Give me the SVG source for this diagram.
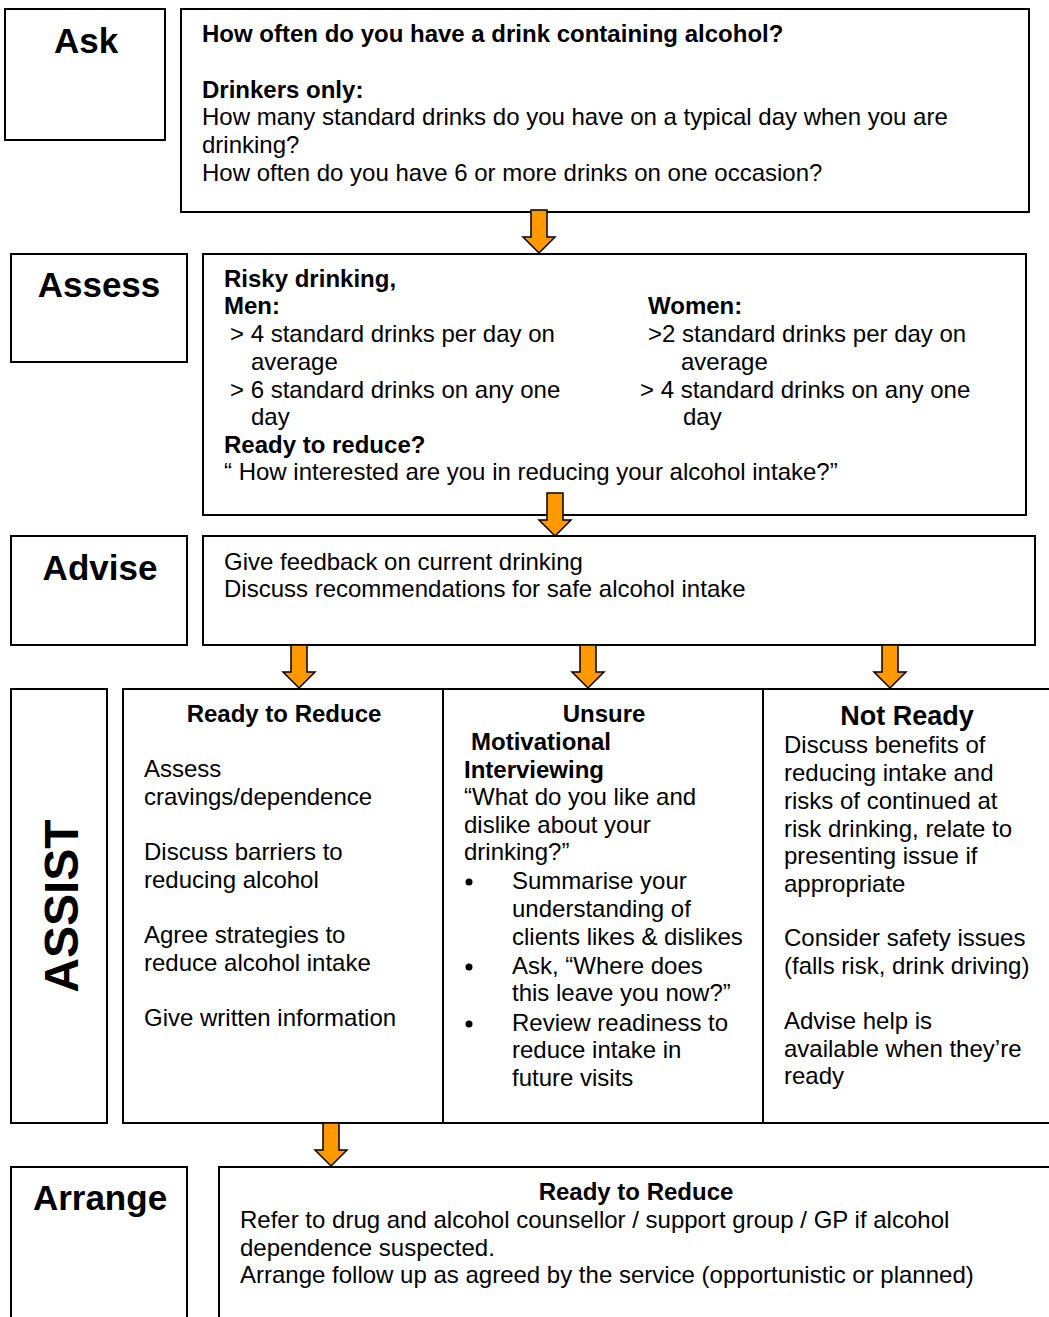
<svg xmlns="http://www.w3.org/2000/svg" width="1049" height="1317" viewBox="0 0 1049 1317">
  <style>
    .box { fill: #fff; stroke: #000; stroke-width: 2; }
    .t { font-family: "Liberation Sans", Arial, sans-serif; font-size: 24px; fill: #000; }
    .b { font-weight: bold; }
    .big { font-size: 27px; }
    .lbl { font-family: "Liberation Sans", Arial, sans-serif; font-size: 35px; font-weight: bold; fill: #000; text-anchor: middle; }
    .arrow { fill: #FF9900; stroke: #000; stroke-width: 1.5; stroke-linejoin: miter; }
  </style>
  <defs>
    <!-- block arrow, tip at (0,0), length 43 -->
    <path id="down" class="arrow" d="M -8 -43 L 8 -43 L 8 -16 L 16 -16 L 0 0 L -16 -16 L -8 -16 Z"/>
  </defs>
  <rect width="1049" height="1317" fill="#fff"/>

  <!-- Ask -->
  <g id="ask-label">
    <rect class="box" x="5" y="9" width="160" height="131"/>
    <text class="lbl" x="86" y="53">Ask</text>
  </g>
  <g id="ask-content">
    <rect class="box" x="181" y="9" width="848" height="203"/>
    <text class="t b" x="202" y="42">How often do you have a drink containing alcohol?</text>
    <text class="t b" x="202" y="98">Drinkers only:</text>
    <text class="t" x="202" y="125">How many standard drinks do you have on a typical day when you are</text>
    <text class="t" x="202" y="153">drinking?</text>
    <text class="t" x="202" y="181">How often do you have 6 or more drinks on one occasion?</text>
  </g>

  <!-- Assess -->
  <g id="assess-label">
    <rect class="box" x="11" y="254" width="176" height="108"/>
    <text class="lbl" x="99" y="297">Assess</text>
  </g>
  <g id="assess-content">
    <rect class="box" x="203" y="254" width="823" height="261"/>
    <text class="t b" x="224" y="287">Risky drinking,</text>
    <text class="t b" x="224" y="314">Men:</text>
    <text class="t" x="230" y="342">&gt; 4 standard drinks per day on</text>
    <text class="t" x="251" y="370">average</text>
    <text class="t" x="230" y="398">&gt; 6 standard drinks on any one</text>
    <text class="t" x="251" y="425">day</text>
    <text class="t b" x="648" y="314">Women:</text>
    <text class="t" x="648" y="342">&gt;2 standard drinks per day on</text>
    <text class="t" x="681" y="370">average</text>
    <text class="t" x="640" y="398">&gt; 4 standard drinks on any one</text>
    <text class="t" x="683" y="425">day</text>
    <text class="t b" x="224" y="453">Ready to reduce?</text>
    <text class="t" x="224" y="480">“ How interested are you in reducing your alcohol intake?”</text>
  </g>

  <!-- Advise -->
  <g id="advise-label">
    <rect class="box" x="11" y="536" width="176" height="109"/>
    <text class="lbl" x="100" y="580">Advise</text>
  </g>
  <g id="advise-content">
    <rect class="box" x="203" y="536" width="832" height="109"/>
    <text class="t" x="224" y="570">Give feedback on current drinking</text>
    <text class="t" x="224" y="597">Discuss recommendations for safe alcohol intake</text>
  </g>

  <!-- Assist -->
  <g id="assist-label">
    <rect class="box" x="11" y="689" width="96" height="434"/>
    <text font-family="Liberation Sans, Arial, sans-serif" font-size="48" font-weight="bold" text-anchor="middle" transform="translate(78 906) rotate(-90)">ASSIST</text>
  </g>
  <g id="assist-ready">
    <rect class="box" x="123" y="689" width="320" height="434"/>
    <text class="t b" x="284" y="722" text-anchor="middle">Ready to Reduce</text>
    <text class="t" x="144" y="777">Assess</text>
    <text class="t" x="144" y="805">cravings/dependence</text>
    <text class="t" x="144" y="860">Discuss barriers to</text>
    <text class="t" x="144" y="888">reducing alcohol</text>
    <text class="t" x="144" y="943">Agree strategies to</text>
    <text class="t" x="144" y="971">reduce alcohol intake</text>
    <text class="t" x="144" y="1026">Give written information</text>
  </g>
  <g id="assist-unsure">
    <rect class="box" x="443" y="689" width="320" height="434"/>
    <text class="t b" x="604" y="722" text-anchor="middle">Unsure</text>
    <text class="t b" x="471" y="750">Motivational</text>
    <text class="t b" x="464" y="778">Interviewing</text>
    <text class="t" x="464" y="805">“What do you like and</text>
    <text class="t" x="464" y="833">dislike about your</text>
    <text class="t" x="464" y="860">drinking?”</text>
    <circle cx="469" cy="882" r="3.5"/>
    <text class="t" x="512" y="889">Summarise your</text>
    <text class="t" x="512" y="917">understanding of</text>
    <text class="t" x="512" y="945">clients likes &amp; dislikes</text>
    <circle cx="469" cy="967" r="3.5"/>
    <text class="t" x="512" y="974">Ask, “Where does</text>
    <text class="t" x="512" y="1001">this leave you now?”</text>
    <circle cx="469" cy="1024" r="3.5"/>
    <text class="t" x="512" y="1031">Review readiness to</text>
    <text class="t" x="512" y="1058">reduce intake in</text>
    <text class="t" x="512" y="1086">future visits</text>
  </g>
  <g id="assist-not-ready">
    <rect class="box" x="763" y="689" width="300" height="434"/>
    <text class="t b big" x="907" y="725" text-anchor="middle">Not Ready</text>
    <text class="t" x="784" y="753">Discuss benefits of</text>
    <text class="t" x="784" y="781">reducing intake and</text>
    <text class="t" x="784" y="809">risks of continued at</text>
    <text class="t" x="784" y="837">risk drinking, relate to</text>
    <text class="t" x="784" y="864">presenting issue if</text>
    <text class="t" x="784" y="892">appropriate</text>
    <text class="t" x="784" y="946">Consider safety issues</text>
    <text class="t" x="784" y="974">(falls risk, drink driving)</text>
    <text class="t" x="784" y="1029">Advise help is</text>
    <text class="t" x="784" y="1057">available when they’re</text>
    <text class="t" x="784" y="1084">ready</text>
  </g>

  <!-- Arrange -->
  <g id="arrange-label">
    <rect class="box" x="11" y="1167" width="176" height="170"/>
    <text class="lbl" x="100" y="1210">Arrange</text>
  </g>
  <g id="arrange-content">
    <rect class="box" x="219" y="1167" width="850" height="170"/>
    <text class="t b" x="636" y="1200" text-anchor="middle">Ready to Reduce</text>
    <text class="t" x="240" y="1228">Refer to drug and alcohol counsellor / support group / GP if alcohol</text>
    <text class="t" x="240" y="1256">dependence suspected.</text>
    <text class="t" x="240" y="1283">Arrange follow up as agreed by the service (opportunistic or planned)</text>
  </g>

  <!-- Connectors -->
  <g id="connectors">
    <use href="#down" x="539" y="253"/>
    <use href="#down" x="555" y="536"/>
    <use href="#down" x="299" y="688"/>
    <use href="#down" x="588" y="688"/>
    <use href="#down" x="890" y="688"/>
    <use href="#down" x="331" y="1166"/>
  </g>
</svg>
